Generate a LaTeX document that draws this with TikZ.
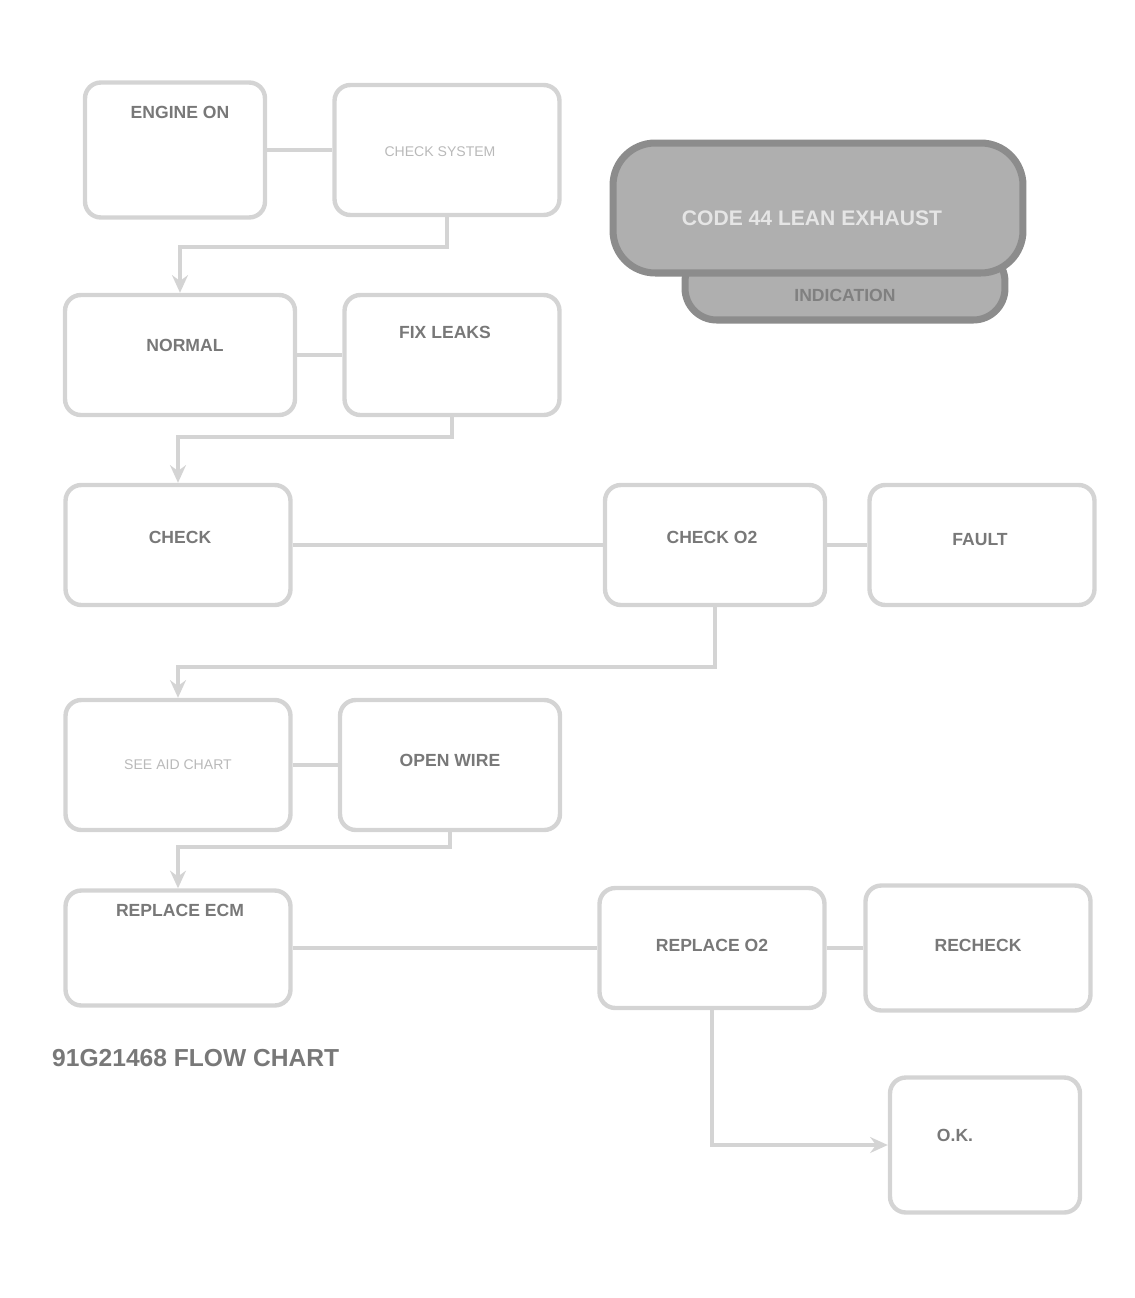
\documentclass[tikz,border=0pt]{standalone}
\usepackage{fontspec}
\setmainfont{Liberation Sans}
\usetikzlibrary{arrows.meta, positioning}
\definecolor{boxline}{RGB}{212,212,212}
\definecolor{inkgray}{RGB}{120,120,120}
\definecolor{lightink}{RGB}{185,185,185}
\definecolor{titlefill}{RGB}{175,175,175}
\definecolor{titleline}{RGB}{140,140,140}

\tikzset{
  box/.style={draw=boxline, line width=2.5pt, rounded corners=9pt},
  pair/.style={draw=boxline, line width=2.5pt},
  link/.style={draw=boxline, line width=2.5pt, -{Stealth[length=10pt,width=9pt]}},
  ink/.style={text=inkgray, font=\bfseries\fontsize{10}{12}\selectfont},
  thin ink/.style={text=lightink, font=\fontsize{8}{10}\selectfont}
}

\begin{document}
\begin{tikzpicture}[x=0.02cm, y=-0.02cm]
\useasboundingbox (0,0) rectangle (1135,1298);

% Title block
\node[fill=titlefill, draw=titleline, line width=4pt, rounded corners=18pt,
      minimum width=6.4cm, minimum height=1.4cm] (titlelow) at (845,285) {};
\node[fill=titlefill, draw=titleline, line width=4pt, rounded corners=24pt,
      minimum width=8.2cm, minimum height=2.6cm] (title) at (818,208) {};
\node[text=black!10, font=\bfseries\fontsize{12}{14}\selectfont] (ttitle) at (812,218) {CODE 44 LEAN EXHAUST};
\node[text=black!50, font=\bfseries\fontsize{10}{12}\selectfont] (ttitlelow) at (845,295) {INDICATION};

% Row 1
\node[box, minimum width=3.6cm, minimum height=2.7cm] (A) at (175,150) {};
\node[box, minimum width=4.5cm, minimum height=2.6cm] (B) at (447,150) {};
\node[ink] (tA) at (180,112) {ENGINE ON};
\node[thin ink] (tB) at (440,152) {CHECK SYSTEM};

% Row 2
\node[box, minimum width=4.6cm, minimum height=2.4cm] (C) at (180,355) {};
\node[box, minimum width=4.3cm, minimum height=2.4cm] (D) at (452,355) {};
\node[ink] (tC) at (185,345) {NORMAL};
\node[ink] (tD) at (445,332) {FIX LEAKS};

% Row 3
\node[box, minimum width=4.5cm, minimum height=2.4cm] (E) at (178,545) {};
\node[box, minimum width=4.4cm, minimum height=2.4cm] (F) at (715,545) {};
\node[box, minimum width=4.5cm, minimum height=2.4cm] (G) at (982,545) {};
\node[ink] (tE) at (180,537) {CHECK};
\node[ink] (tF) at (712,537) {CHECK O2};
\node[ink] (tG) at (980,540) {FAULT};

% Row 4
\node[box, minimum width=4.5cm, minimum height=2.6cm] (H) at (178,765) {};
\node[box, minimum width=4.4cm, minimum height=2.6cm] (I) at (450,765) {};
\node[thin ink] (tH) at (178,765) {SEE AID CHART};
\node[ink] (tI) at (450,760) {OPEN WIRE};

% Row 5
\node[box, minimum width=4.5cm, minimum height=2.3cm] (J) at (178,948) {};
\node[box, minimum width=4.5cm, minimum height=2.4cm] (K) at (712,948) {};
\node[box, minimum width=4.5cm, minimum height=2.5cm] (L) at (978,948) {};
\node[ink] (tJ) at (180,910) {REPLACE ECM};
\node[ink] (tK) at (712,945) {REPLACE O2};
\node[ink] (tL) at (978,945) {RECHECK};

% Row 6
\node[box, minimum width=3.8cm, minimum height=2.7cm] (M) at (985,1145) {};
\node[ink] (tM) at (955,1135) {O.K.};

% Figure number
\node[ink, font=\bfseries\fontsize{14}{16}\selectfont, anchor=west] (fig) at (46,1058) {91G21468 FLOW CHART};

% Side by side links
\draw[pair] (A) -- (B);
\draw[pair] (C) -- (D);
\draw[pair] (E) -- (F);
\draw[pair] (F) -- (G);
\draw[pair] (H) -- (I);
\draw[pair] (J.east |- K) -- (K);
\draw[pair] (K) -- (L);

% Down links
\draw[link] (B.south) -- ++(0,30) -| (C.north);
\draw[link] (D.south) -- ++(0,20) -| (E.north);
\draw[link] (F.south) -- ++(0,60) -| (H.north);
\draw[link] (I.south) -- ++(0,15) -| (J.north);
\draw[link] (K.south) |- (M.west);

\end{tikzpicture}
\end{document}
